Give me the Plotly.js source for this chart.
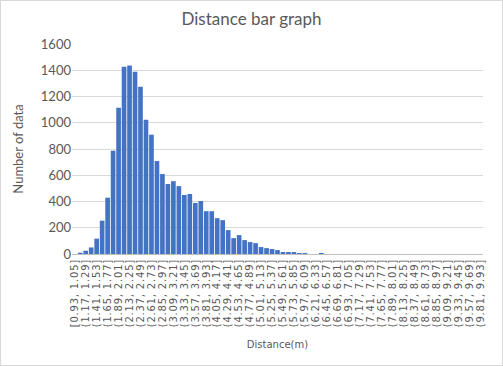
<!DOCTYPE html>
<html>
<head>
<meta charset="utf-8">
<script src="https://cdn.plot.ly/plotly-3.0.1.min.js"></script>
<style>
  html, body { margin: 0; padding: 0; background: #fff; }
  #chart { width: 503px; height: 366px; }
  #frame { position: absolute; left: 0; top: 0; width: 501px; height: 364px; border: 1px solid #d9d9d9; pointer-events: none; }
  #chart .xtick text { letter-spacing: 0.8px; }
</style>
</head>
<body>
<div id="chart"></div>
<div id="frame"></div>
<script>
const categories = [
  "[0.93, 1.05]", "(1.05, 1.17]", "(1.17, 1.29]", "(1.29, 1.41]", "(1.41, 1.53]",
  "(1.53, 1.65]", "(1.65, 1.77]", "(1.77, 1.89]", "(1.89, 2.01]", "(2.01, 2.13]",
  "(2.13, 2.25]", "(2.25, 2.37]", "(2.37, 2.49]", "(2.49, 2.61]", "(2.61, 2.73]",
  "(2.73, 2.85]", "(2.85, 2.97]", "(2.97, 3.09]", "(3.09, 3.21]", "(3.21, 3.33]",
  "(3.33, 3.45]", "(3.45, 3.57]", "(3.57, 3.69]", "(3.69, 3.81]", "(3.81, 3.93]",
  "(3.93, 4.05]", "(4.05, 4.17]", "(4.17, 4.29]", "(4.29, 4.41]", "(4.41, 4.53]",
  "(4.53, 4.65]", "(4.65, 4.77]", "(4.77, 4.89]", "(4.89, 5.01]", "(5.01, 5.13]",
  "(5.13, 5.25]", "(5.25, 5.37]", "(5.37, 5.49]", "(5.49, 5.61]", "(5.61, 5.73]",
  "(5.73, 5.85]", "(5.85, 5.97]", "(5.97, 6.09]", "(6.09, 6.21]", "(6.21, 6.33]",
  "(6.33, 6.45]", "(6.45, 6.57]", "(6.57, 6.69]", "(6.69, 6.81]", "(6.81, 6.93]",
  "(6.93, 7.05]", "(7.05, 7.17]", "(7.17, 7.29]", "(7.29, 7.41]", "(7.41, 7.53]",
  "(7.53, 7.65]", "(7.65, 7.77]", "(7.77, 7.89]", "(7.89, 8.01]", "(8.01, 8.13]",
  "(8.13, 8.25]", "(8.25, 8.37]", "(8.37, 8.49]", "(8.49, 8.61]", "(8.61, 8.73]",
  "(8.73, 8.85]", "(8.85, 8.97]", "(8.97, 9.09]", "(9.09, 9.21]", "(9.21, 9.33]",
  "(9.33, 9.45]", "(9.45, 9.57]", "(9.57, 9.69]", "(9.69, 9.81]", "(9.81, 9.93]"
];

const counts = [
  0, 10, 25, 50, 117, 254, 429, 787, 1114, 1426,
  1437, 1388, 1274, 1023, 909, 708, 609, 533, 555, 517,
  450, 457, 389, 404, 326, 326, 273, 258, 182, 121,
  144, 106, 91, 83, 53, 45, 38, 30, 15, 15,
  15, 8, 8, 0, 0, 8, 0, 0, 0, 0,
  0, 0, 0, 0, 0, 0, 0, 0, 0, 0,
  0, 0, 0, 0, 0, 0, 0, 0, 0, 0,
  0, 0, 0, 0, 0
];

const shownLabels = categories.filter((c, i) => i % 2 === 0);

const textColor = "#595959";
const fontFamily = "Lato, 'Open Sans', sans-serif";
const smallFont = "'DejaVu Sans', Verdana, sans-serif";

const trace = {
  type: "bar",
  x: categories,
  y: counts,
  marker: { color: "#4472C4" },
  hoverinfo: "x+y"
};

const layout = {
  width: 503,
  height: 366,
  margin: { l: 72, r: 20, t: 44, b: 112 },
  paper_bgcolor: "#ffffff",
  plot_bgcolor: "#ffffff",
  bargap: 0.15,
  showlegend: false,
  font: { family: fontFamily, color: textColor },
  title: {
    text: "Distance bar graph",
    font: { family: fontFamily, size: 17, color: textColor },
    x: 0.5, xanchor: "center",
    y: 0.948, yanchor: "middle"
  },
  xaxis: {
    type: "category",
    tickmode: "array",
    tickvals: shownLabels,
    ticktext: shownLabels,
    tickangle: -90,
    tickfont: { family: smallFont, size: 10, color: textColor },
    showgrid: false,
    showline: true,
    linecolor: "#bfbfbf",
    linewidth: 1,
    ticks: "",
    automargin: false,
    title: {
      text: "Distance(m)",
      font: { family: smallFont, size: 10, color: textColor },
      standoff: 24
    }
  },
  yaxis: {
    range: [0, 1600],
    dtick: 200,
    tick0: 0,
    tickfont: { family: fontFamily, size: 13, color: textColor },
    showgrid: true,
    gridcolor: "#d9d9d9",
    gridwidth: 1,
    zeroline: false,
    showline: false,
    ticks: "",
    ticklen: 0,
    automargin: false,
    title: {
      text: "Number of data",
      font: { family: fontFamily, size: 13, color: textColor },
      standoff: 14
    }
  }
};

Plotly.newPlot("chart", [trace], layout, { displayModeBar: false, staticPlot: true });
</script>
</body>
</html>
